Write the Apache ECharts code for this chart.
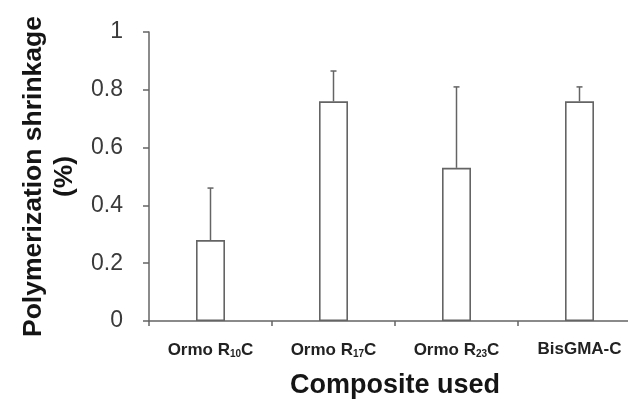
<!DOCTYPE html>
<html>
<head>
<meta charset="utf-8">
<script src="https://cdn.jsdelivr.net/npm/echarts@6/dist/echarts.min.js"></script>
<style>
html,body{margin:0;padding:0;background:#fff;}
#chart{width:628px;height:401px;}
</style>
</head>
<body>
<div id="chart"></div>
<script>
// Data
const categories = ['Ormo R{sub|10}C', 'Ormo R{sub|17}C', 'Ormo R{sub|23}C', 'BisGMA-C'];
const shrinkageMean = [0.28, 0.76, 0.53, 0.76];
const shrinkageUpper = [0.46, 0.865, 0.81, 0.81];
const yTicks = [0, 0.2, 0.4, 0.6, 0.8, 1];

const errorData = shrinkageMean.map((v, i) => [i, v, shrinkageUpper[i]]);

const chart = echarts.init(document.getElementById('chart'));
const lineColor = '#646464';
chart.setOption({
  animation: false,
  backgroundColor: '#fff',
  grid: {left: 149, right: -13, top: 32, bottom: 80, outerBoundsMode: 'none', containLabel: false},
  xAxis: {
    type: 'category',
    data: categories,
    name: 'Composite used',
    nameLocation: 'middle',
    nameGap: 51,
    nameTextStyle: {fontFamily: 'Liberation Sans, Arial', fontSize: 27, fontWeight: 'bold', color: '#151515'},
    axisLine: {lineStyle: {color: lineColor, width: 1.5}},
    axisTick: {show: true, length: 5, lineStyle: {color: lineColor, width: 1.5}},
    axisLabel: {
      margin: 20,
      interval: 0,
      fontFamily: 'Liberation Sans, Arial',
      fontSize: 17,
      fontWeight: 'bold',
      color: '#222',
      rich: {
        sub: {fontFamily: 'Liberation Sans, Arial', fontSize: 10, fontWeight: 'bold', color: '#222', padding: [8, 0, 0, 0]}
      }
    },
    splitLine: {show: false}
  },
  yAxis: {
    type: 'value',
    min: 0,
    max: 1,
    interval: 0.2,
    name: 'Polymerization shrinkage\n(%)',
    nameLocation: 'middle',
    nameRotate: 90,
    nameGap: 62,
    nameTextStyle: {fontFamily: 'Liberation Sans, Arial', fontSize: 26.5, fontWeight: 'bold', color: '#151515', lineHeight: 31},
    axisLine: {show: true, lineStyle: {color: lineColor, width: 1.5}},
    axisTick: {show: true, length: 6, lineStyle: {color: lineColor, width: 1.5}},
    axisLabel: {
      margin: 26,
      fontFamily: 'Liberation Sans, Arial',
      fontSize: 23,
      color: '#3a3a3a',
      formatter: v => yTicks.includes(+v.toFixed(1)) ? String(+v.toFixed(1)) : ''
    },
    splitLine: {show: false}
  },
  series: [
    {
      type: 'bar',
      data: shrinkageMean,
      barWidth: 29,
      itemStyle: {color: '#fff', borderColor: lineColor, borderWidth: 1.6},
      z: 2
    },
    {
      type: 'custom',
      data: errorData,
      z: 3,
      renderItem: function (params, api) {
        const x = api.value(0);
        const lo = api.coord([x, api.value(1)]);
        const hi = api.coord([x, api.value(2)]);
        const cap = 3;
        return {
          type: 'group',
          children: [
            {type: 'line', shape: {x1: lo[0], y1: lo[1], x2: hi[0], y2: hi[1]}, style: {stroke: lineColor, lineWidth: 1.5}},
            {type: 'line', shape: {x1: hi[0] - cap, y1: hi[1], x2: hi[0] + cap, y2: hi[1]}, style: {stroke: lineColor, lineWidth: 1.5}}
          ]
        };
      }
    }
  ]
});
</script>
</body>
</html>
